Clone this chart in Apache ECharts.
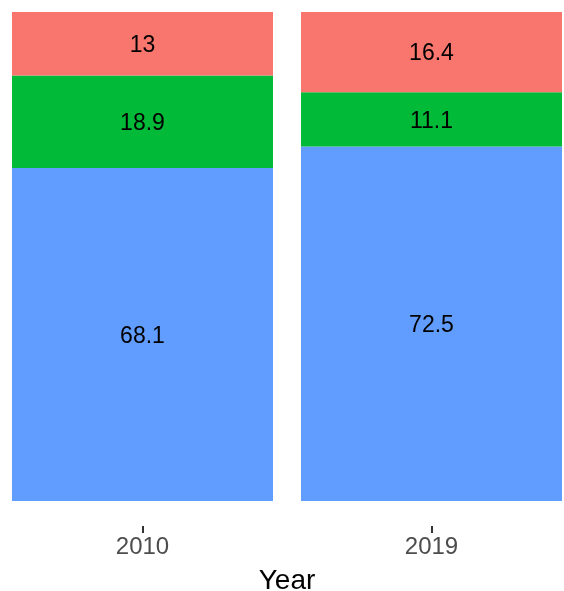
<!DOCTYPE html>
<html>
<head>
<meta charset="utf-8">
<script src="https://cdn.jsdelivr.net/npm/echarts@6/dist/echarts.min.js"></script>
<style>
html,body{margin:0;padding:0;background:#fff;}
#chart{width:564px;height:591px;}
</style>
</head>
<body>
<div id="chart"></div>
<script>
var years = ['2010', '2019'];
var blueValues = [68.1, 72.5];
var greenValues = [18.9, 11.1];
var redValues = [13, 16.4];

var chart = echarts.init(document.getElementById('chart'), null, {renderer: 'canvas'});
var font = 'Liberation Sans, Arial, Helvetica, sans-serif';
function mk(name, data, color) {
  return {
    name: name,
    type: 'bar',
    stack: 'total',
    data: data,
    barWidth: 261,
    itemStyle: {color: color},
    label: {
      show: true,
      position: 'inside',
      offset: [0, 2],
      color: '#000',
      fontFamily: font,
      fontSize: 23,
      formatter: function (p) { return String(p.value); }
    },
    emphasis: {disabled: true}
  };
}
chart.setOption({
  animation: false,
  backgroundColor: '#fff',
  grid: {left: -2, top: 12, width: 578, height: 489, containLabel: false, outerBoundsMode: 'none'},
  xAxis: {
    type: 'category',
    data: years,
    offset: 25,
    axisLine: {show: false, onZero: false},
    axisTick: {show: true, alignWithLabel: true, length: 7, lineStyle: {color: '#333', width: 2}},
    axisLabel: {color: '#4d4d4d', fontFamily: font, fontSize: 24, margin: 9, lineHeight: 24},
    name: 'Year',
    nameLocation: 'middle',
    nameGap: 41,
    nameTextStyle: {color: '#000', fontFamily: font, fontSize: 28}
  },
  yAxis: {
    type: 'value',
    min: 0,
    max: 100,
    show: false,
    splitLine: {show: false}
  },
  series: [
    mk('blue', blueValues, '#619CFF'),
    mk('green', greenValues, '#00BA38'),
    mk('red', redValues, '#F8766D')
  ]
});
</script>
</body>
</html>
